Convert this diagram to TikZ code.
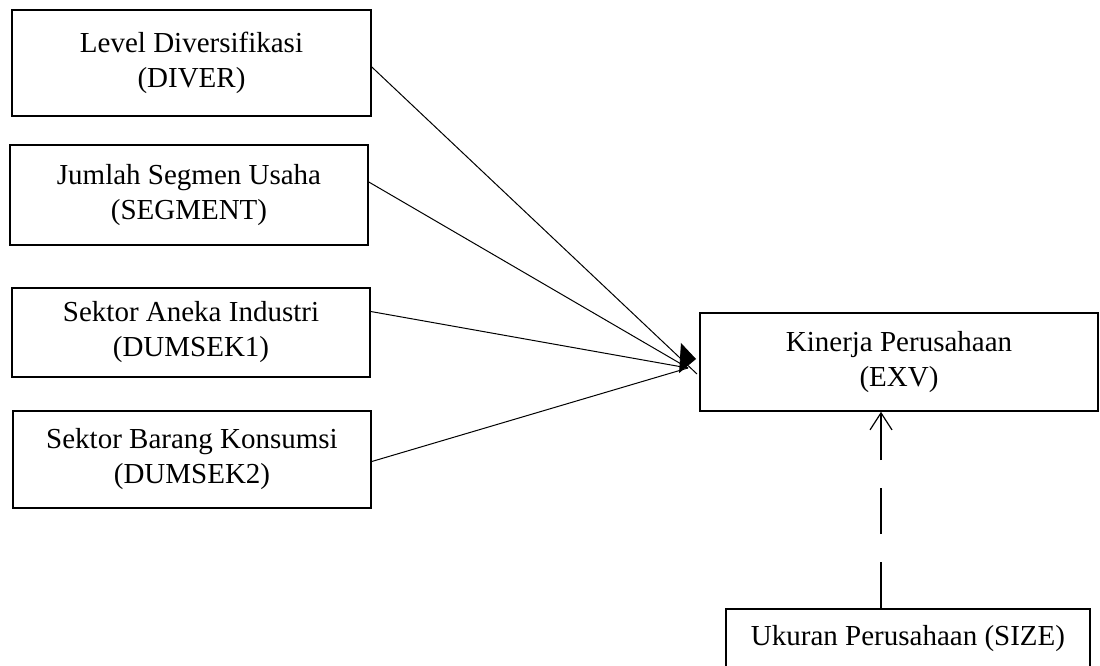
\documentclass[tikz,border=0pt]{standalone}
\usepackage{fontspec}
\setmainfont{Liberation Serif}
\usetikzlibrary{arrows.meta,calc}
\begin{document}
\begin{tikzpicture}[x=1pt,y=-1pt,
  box/.style={draw,line width=1.6pt,align=center,inner sep=0pt,font=\fontsize{29}{35}\selectfont},
  link/.style={line width=1pt}]
\clip (0,0) rectangle (1100,666);
\node[box,minimum width=359pt,minimum height=106pt] (b1) at (191.5,63) {Level Diversifikasi\\(DIVER)};
\node[box,minimum width=358pt,minimum height=100pt] (b2) at (189,195) {Jumlah Segmen Usaha\\(SEGMENT)};
\node[box,minimum width=358pt,minimum height=89pt] (b3) at (191,332.5) {Sektor Aneka Industri\\(DUMSEK1)};
\node[box,minimum width=358pt,minimum height=97pt] (b4) at (192,459.5) {Sektor Barang Konsumsi\\(DUMSEK2)};
\node[box,minimum width=398pt,minimum height=98pt] (kin) at (899,362) {Kinerja Perusahaan\\(EXV)};
\node[box,minimum width=364pt,minimum height=60pt] (sz) at (908,639) {Ukuran Perusahaan (SIZE)};
\coordinate (hub) at (688,368);
\coordinate (hub1) at (697,374);
\coordinate (tip) at (696,359);
\coordinate (tipbase) at (680,358);
\draw[link] ([yshift=-4pt]b1.east) -- (hub1);
\draw[link] ([yshift=13pt]b2.east) -- (hub);
\draw[link] ([yshift=21pt]b3.east) -- (hub);
\draw[link] ([yshift=-2pt]b4.east) -- (hub);
\draw[line width=0.8pt,-{Triangle[length=16pt,width=30pt]}] (tipbase) -- (tip);
\coordinate (szt) at ($(sz.north)+(-27,0)$);
\draw[line width=1.2pt,dash pattern=on 46pt off 28pt,-{Straight Barb[length=17pt,width=22pt]}] (szt) -- (szt |- kin.south);
\end{tikzpicture}
\end{document}
